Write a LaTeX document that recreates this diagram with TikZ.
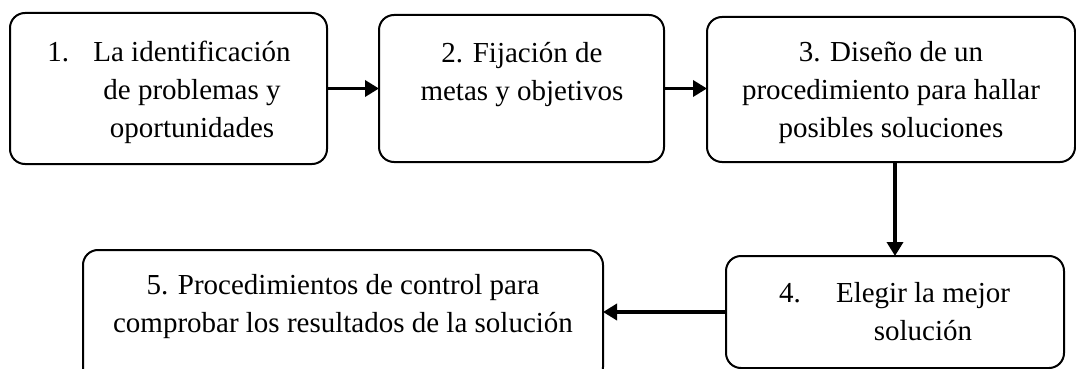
\documentclass[tikz,border=0pt]{standalone}
\usepackage{fontspec}
\setmainfont{Liberation Serif}
\usetikzlibrary{arrows.meta}
\tikzset{
  stepbox/.style={draw=black, line width=2pt, rounded corners=15pt, inner sep=0pt, outer sep=0pt},
  txt/.style={align=center, inner sep=0pt, anchor=base, font=\fontsize{29}{38}\selectfont},
  conn/.style={line width=3.5pt, -{Triangle[length=14pt,width=16pt]}}
}
\begin{document}
\begin{tikzpicture}[x=1pt,y=-1pt]
\useasboundingbox (0,0) rectangle (1076,369);
% boxes
\node[stepbox, minimum width=317pt, minimum height=151pt] (b1) at (168.5,88.5) {};
\node[stepbox, minimum width=285pt, minimum height=147pt] (b2) at (521.5,88.5) {};
\node[stepbox, minimum width=368pt, minimum height=145pt] (b3) at (891,89.5) {};
\node[stepbox, minimum width=338pt, minimum height=112pt] (b4) at (895,312) {};
\node[stepbox, minimum width=520pt, minimum height=132pt] (b5) at (343,316) {};
% texts (anchored at the baseline of the last line)
\node[txt] (t1) at (192,137) {\llap{\makebox[46pt][l]{1.}}La identificación\\de problemas y\\oportunidades};
\node[txt] (t2) at (522,100) {2. Fijación de\\metas y objetivos};
\begin{scope}
\clip (707,17) rectangle (1075,143);
\node[txt] (t3) at (891,137) {3. Diseño de un\\procedimiento para hallar\\posibles soluciones};
\end{scope}
\node[txt] (t4) at (923,340) {\llap{\makebox[57pt][l]{4.}}Elegir la mejor\\solución};
\node[txt] (t5) at (343,332) {5. Procedimientos de control para\\comprobar los resultados de la solución};
% connectors
\coordinate (a2) at (b1.east -| b2.west);
\draw[conn] (b1.east) -- (a2);
\coordinate (a3) at (b2.east -| b3.west);
\draw[conn] (b2.east) -- (a3);
\coordinate (c3) at (b3.south -| b4.north);
\draw[conn] (c3) -- (b4.north);
\coordinate (a5) at (b4.west -| b5.east);
\draw[conn] (b4.west) -- (a5);
\end{tikzpicture}
\end{document}
